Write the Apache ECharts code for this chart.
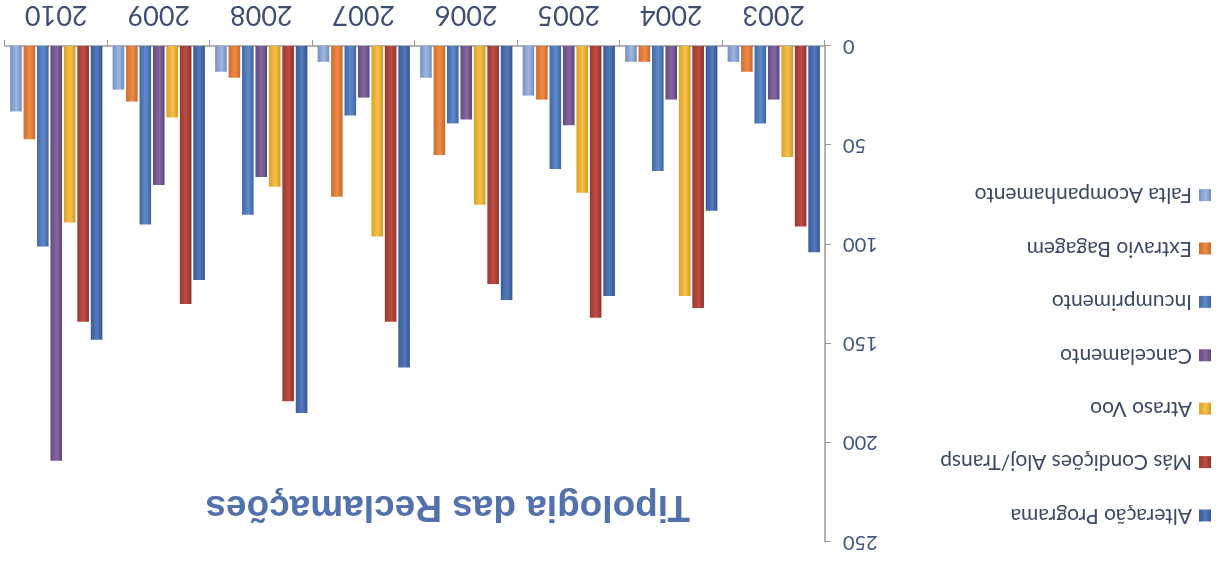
<!DOCTYPE html>
<html>
<head>
<meta charset="utf-8">
<script src="https://cdn.jsdelivr.net/npm/echarts@6/dist/echarts.min.js"></script>
<style>
html,body{margin:0;padding:0;background:#fff;overflow:hidden;}
#wrap{width:1222px;height:563px;transform:rotate(180deg);transform-origin:50% 50%;}
#chart{width:1222px;height:563px;}
</style>
</head>
<body>
<div id="wrap"><div id="chart"></div></div>
<script>
const categories = ['2003','2004','2005','2006','2007','2008','2009','2010'];
const seriesNames = ['Alteração Programa','Más Condições Aloj/Transp','Atraso Voo','Cancelamento','Incumprimento','Extravio Bagagem','Falta Acompanhamento'];
const alteracaoPrograma   = [104, 83, 126, 128, 162, 185, 118, 148];
const masCondicoes        = [91, 132, 137, 120, 139, 179, 130, 139];
const atrasoVoo           = [56, 126, 74, 80, 96, 71, 36, 89];
const cancelamento        = [27, 27, 40, 37, 26, 66, 70, 209];
const incumprimento       = [39, 63, 62, 39, 35, 85, 90, 101];
const extravioBagagem     = [13, 8, 27, 55, 76, 16, 28, 47];
const faltaAcompanhamento = [8, 8, 25, 16, 8, 13, 22, 33];
const yTicks = [0, 50, 100, 150, 200, 250];

const values = [alteracaoPrograma, masCondicoes, atrasoVoo, cancelamento, incumprimento, extravioBagagem, faltaAcompanhamento];
const colors = [
  ['#34558f','#5479bd','#3a5c98'],
  ['#8f332c','#bf4d43','#973a32'],
  ['#d39a22','#f6c04a','#d9a12a'],
  ['#5d4478','#8467a0','#644b80'],
  ['#3b64a0','#5f8bc8','#4169a6'],
  ['#c8682a','#ee8b45','#cc6e30'],
  ['#6f8bbf','#9fb6de','#7690c4']
];
const chart = echarts.init(document.getElementById('chart'));
const font = 'Lato, "Liberation Sans", sans-serif';
chart.setOption({
  animation: false,
  backgroundColor: '#ffffff',
  title: {
    text: 'Tipologia das Reclamações',
    left: 532, top: 38, padding: 0,
    textStyle: {fontFamily: '"Liberation Sans", Arial, sans-serif', fontSize: 37, fontWeight: 'bold', color: '#5271ad'}
  },
  legend: {
    orient: 'vertical', left: 11, top: 37, padding: 0,
    itemWidth: 12, itemHeight: 12, itemGap: 32.4,
    icon: 'rect',
    textStyle: {fontFamily: font, fontSize: 21, color: '#3d4a66', padding: [0,0,0,2]},
    data: seriesNames
  },
  grid: {left: 397, right: 5, top: 21, bottom: 46, containLabel: false},
  xAxis: {
    type: 'category', data: categories,
    axisLine: {lineStyle: {color: '#9a9a9a', width: 1.5}},
    axisTick: {show: true, length: 6, lineStyle: {color: '#9a9a9a'}},
    axisLabel: {fontFamily: font, fontSize: 27, color: '#3f4f72', margin: 18}
  },
  yAxis: {
    type: 'value', min: 0, max: 250, interval: 50,
    axisLine: {show: true, lineStyle: {color: '#9a9a9a', width: 1.5}},
    axisTick: {show: true, length: 6, lineStyle: {color: '#9a9a9a'}},
    splitLine: {show: false},
    axisLabel: {fontFamily: font, fontSize: 20, color: '#42557f', margin: 18,
      formatter: v => yTicks.includes(v) ? String(v) : ''}
  },
  series: seriesNames.map((name, i) => ({
    name: name, type: 'bar', data: values[i],
    barGap: '16%', barCategoryGap: '10%',
    itemStyle: {
      color: new echarts.graphic.LinearGradient(0, 0, 1, 0, [
        {offset: 0, color: colors[i][0]},
        {offset: 0.45, color: colors[i][1]},
        {offset: 1, color: colors[i][2]}
      ])
    }
  }))
});
</script>
</body>
</html>
